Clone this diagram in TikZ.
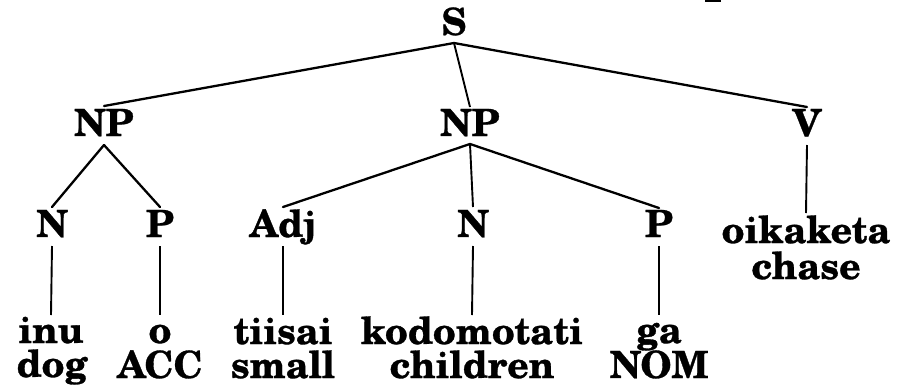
\documentclass[tikz,border=0pt]{standalone}
\usepackage{fontspec}
\setmainfont{TeX Gyre Schola}[BoldFeatures={FakeBold=0.8}]
\begin{document}
\begin{tikzpicture}[x=1pt,y=-1pt,
  lbl/.style={anchor=base,inner sep=0pt,font=\fontsize{37.5}{37.5}\selectfont\bfseries},
  branch/.style={line width=2.3pt,line cap=round},
  stem/.style={line width=1.9pt}]
\useasboundingbox (0,0) rectangle (913,389);
% stray mark at the upper edge
\fill (705,0) rectangle (721,2);
% category labels
\node[lbl] (S)   at (454,35)  {S};
\node[lbl] (NPa) at (104,136) {NP};
\node[lbl] (NPb) at (470,136) {NP};
\node[lbl] (V)   at (807,136) {V};
\node[lbl] (Na)  at (52,237)  {N};
\node[lbl] (Pa)  at (160,237) {P};
\node[lbl] (Adj) at (283,237) {Adj};
\node[lbl] (Nb)  at (473,237) {N};
\node[lbl] (Pb)  at (659,237) {P};
% words and glosses
\node[lbl] (w1) at (51,343)  {inu};
\node[lbl] (g1) at (52,377)  {dog};
\node[lbl] (w2) at (160,343) {o};
\node[lbl] (g2) at (160,378) {ACC};
\node[lbl] (w3) at (283,344) {tiisai};
\node[lbl] (g3) at (283,378) {small};
\node[lbl] (w4) at (472,344) {kodomotati};
\node[lbl] (g4) at (472,378) {children};
\node[lbl] (w5) at (659,343) {ga};
\node[lbl] (g5) at (659,378) {NOM};
\node[lbl] (w6) at (806,243) {oikaketa};
\node[lbl] (g6) at (806,279) {chase};
% branches
\draw[branch] ([yshift=-8pt]S.base) -- ([yshift=30pt]NPa.base);
\draw[stem]   ([yshift=-8pt]S.base) -- ([yshift=29pt]NPb.base);
\draw[branch] ([yshift=-8pt]S.base) -- ([yshift=29pt]V.base);
\draw[branch] ([yshift=-9pt]NPa.base) -- ([yshift=30pt]Na.base);
\draw[branch] ([yshift=-9pt]NPa.base) -- ([yshift=30pt]Pa.base);
\draw[branch] ([yshift=-8pt]NPb.base) -- ([yshift=30pt]Adj.base);
\draw[stem]   ([yshift=-8pt]NPb.base) -- ([yshift=30pt]Nb.base);
\draw[branch] ([yshift=-8pt]NPb.base) -- ([yshift=29pt]Pb.base);
\draw[stem]   ([yshift=-9pt]V.base) -- ([yshift=30pt]w6.base);
\draw[stem]   ([yshift=-9pt]Na.base) -- ([yshift=28pt]w1.base);
\draw[stem]   ([yshift=-9pt]Pa.base) -- ([yshift=28pt]w2.base);
\draw[stem]   ([yshift=-9pt]Adj.base) -- ([yshift=29pt]w3.base);
\draw[stem]   ([yshift=-9pt]Nb.base) -- ([yshift=29pt]w4.base);
\draw[stem]   ([yshift=-9pt]Pb.base) -- ([yshift=28pt]w5.base);
\end{tikzpicture}
\end{document}
